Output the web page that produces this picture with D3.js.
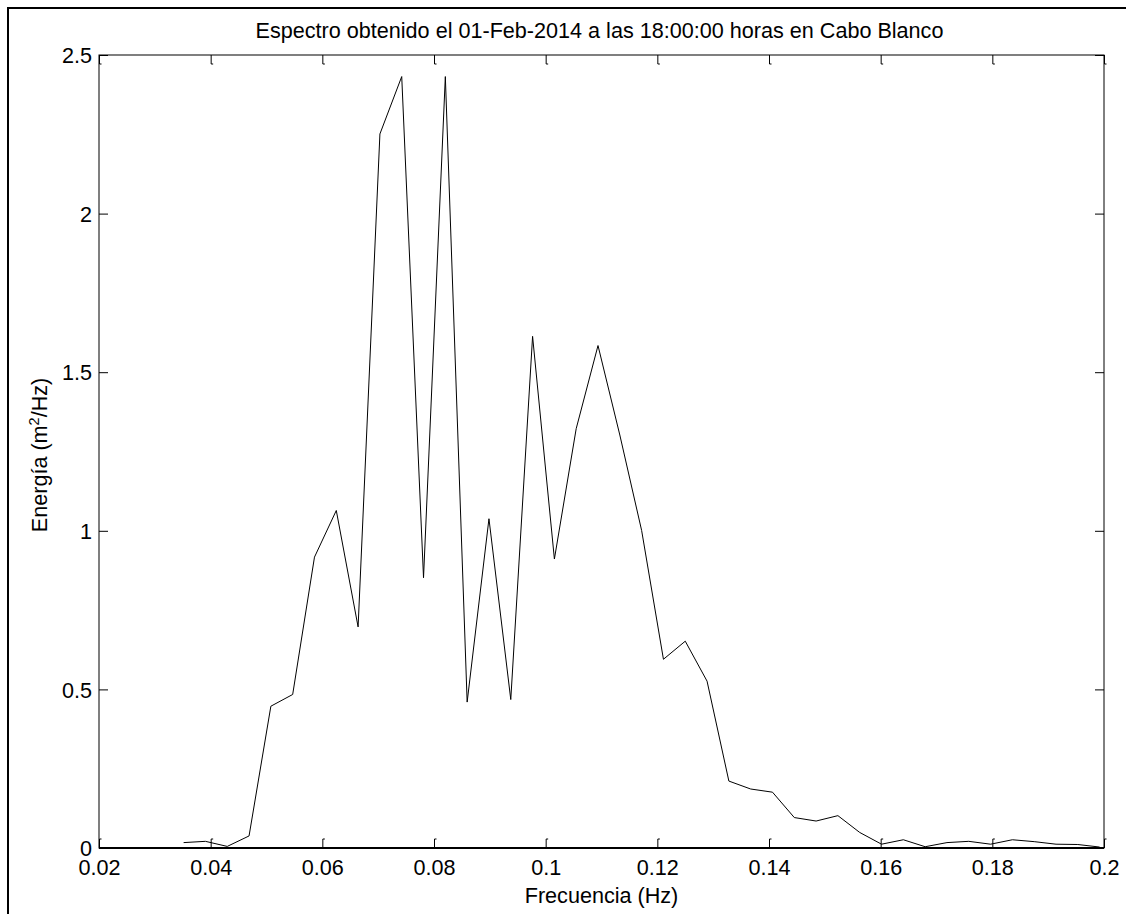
<!DOCTYPE html>
<html>
<head>
<meta charset="utf-8">
<script src="https://cdn.jsdelivr.net/npm/d3@7"></script>
<style>
  html, body { margin: 0; padding: 0; background: #fff; }
  svg { display: block; }
  text { font-family: "Liberation Sans", Arial, sans-serif; fill: #000; }
</style>
</head>
<body>
<svg id="chart" width="1126" height="914"></svg>
<script>
// ---- data (frequency index k: f = k/256 Hz) ----
const freqIndex = [9,10,11,12,13,14,15,16,17,18,19,20,21,22,23,24,25,26,27,28,29,30,
                   31,32,33,34,35,36,37,38,39,40,41,42,43,44,45,46,47,48,49,50,51];
const energy = [0.017,0.021,0.005,0.038,0.447,0.484,0.917,1.064,0.697,2.251,2.432,0.852,
                2.432,0.460,1.038,0.468,1.613,0.911,1.322,1.584,1.302,1.001,0.595,0.652,
                0.526,0.211,0.186,0.176,0.096,0.085,0.102,0.049,0.012,0.026,0.004,0.017,
                0.021,0.012,0.026,0.020,0.012,0.011,0.003];
const xTicks = [0.02,0.04,0.06,0.08,0.1,0.12,0.14,0.16,0.18,0.2];
const xTickLabels = ["0.02","0.04","0.06","0.08","0.1","0.12","0.14","0.16","0.18","0.2"];
const yTicks = [0,0.5,1,1.5,2,2.5];
const yTickLabels = ["0","0.5","1","1.5","2","2.5"];
const titleText = "Espectro obtenido el 01-Feb-2014 a las 18:00:00 horas en Cabo Blanco";
const xLabelText = "Frecuencia (Hz)";

const svg = d3.select("#chart");
const L = 99, R = 1104, T = 55, B = 848;
const x = d3.scaleLinear().domain([0.02, 0.2]).range([L, R]);
const y = d3.scaleLinear().domain([0, 2.5]).range([B, T]);
const FS = 21.6;

// figure frame (left and top edges)
svg.append("path").attr("d", `M8,914 V8 H1126`).attr("fill","none")
   .attr("stroke","#000").attr("stroke-width",2);

// plot box
svg.append("rect").attr("x",L).attr("y",T).attr("width",R-L).attr("height",B-T)
   .attr("fill","none").attr("stroke","#000").attr("stroke-width",1);
svg.append("line").attr("x1",L).attr("x2",R).attr("y1",B).attr("y2",B)
   .attr("stroke","#000").attr("stroke-width",2);

// axes via d3 (inward ticks)
const fmtX = d => xTickLabels[xTicks.indexOf(d)];
const fmtY = d => yTickLabels[yTicks.indexOf(d)];

const gxB = svg.append("g").attr("transform",`translate(0,${B})`)
  .call(d3.axisBottom(x).tickValues(xTicks).tickFormat(fmtX).tickSize(-9).tickPadding(12));
const gxT = svg.append("g").attr("transform",`translate(0,${T})`)
  .call(d3.axisTop(x).tickValues(xTicks).tickFormat("").tickSize(-9));
const gyL = svg.append("g").attr("transform",`translate(${L},0)`)
  .call(d3.axisLeft(y).tickValues(yTicks).tickFormat(fmtY).tickSize(-9).tickPadding(7));
const gyR = svg.append("g").attr("transform",`translate(${R},0)`)
  .call(d3.axisRight(y).tickValues(yTicks).tickFormat("").tickSize(-9));

[gxB,gxT,gyL,gyR].forEach(g => {
  g.select(".domain").remove();
  g.selectAll(".tick line").attr("stroke","#000").attr("stroke-width",1);
  g.selectAll(".tick text").attr("font-size",FS).attr("font-family","Liberation Sans, Arial, sans-serif").attr("fill","#000");
});
gxB.selectAll(".tick text").attr("dy","0.7em");
gyL.selectAll(".tick text").attr("dy","0.36em");

// small tick feet (MATLAB-style hooks)
gxB.selectAll(".tick").append("line").attr("x1",0).attr("x2",2).attr("y1",-9).attr("y2",-9).attr("stroke","#000");
gxT.selectAll(".tick").append("line").attr("x1",0).attr("x2",2).attr("y1",9).attr("y2",9).attr("stroke","#000");

// data line
const line = d3.line().x((d,i) => x(freqIndex[i]/256)).y(d => y(d));
svg.append("path").datum(energy).attr("d", line)
   .attr("fill","none").attr("stroke","#000").attr("stroke-width",1);

// title
svg.append("text").attr("x",(L+R)/2 - 2).attr("y",38).attr("text-anchor","middle")
   .attr("font-size",FS).text(titleText);

// x label
svg.append("text").attr("x",(L+R)/2).attr("y",903).attr("text-anchor","middle")
   .attr("font-size",FS).text(xLabelText);

// y label with superscript
const yl = svg.append("text").attr("transform",`translate(47,455) rotate(-90)`)
   .attr("text-anchor","middle").attr("font-size",FS);
yl.append("tspan").text("Energía (m");
yl.append("tspan").attr("font-size",14.5).attr("dy",-8).text("2");
yl.append("tspan").attr("dy",8).text("/Hz)");
</script>
</body>
</html>
